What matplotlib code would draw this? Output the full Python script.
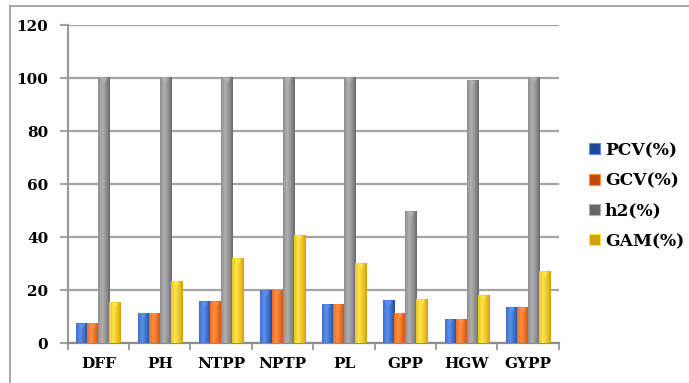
import numpy as np
import matplotlib
matplotlib.use("Agg")
import matplotlib.pyplot as plt
from matplotlib.colors import to_rgb
from matplotlib.patches import Patch
from matplotlib.lines import Line2D

# data
traits = ["DFF", "PH", "NTPP", "NPTP", "PL", "GPP", "HGW", "GYPP"]
pcv = [7.5, 11.3, 15.7, 19.7, 14.5, 16.1, 8.8, 13.2]
gcv = [7.5, 11.3, 15.5, 19.7, 14.5, 11.3, 8.8, 13.2]
h2 = [100, 100, 100, 100, 100, 49.4, 98.9, 100]
gam = [15.1, 23.3, 32.0, 40.5, 29.8, 16.3, 18.0, 26.9]
series_names = ["PCV(%)", "GCV(%)", "h2(%)", "GAM(%)"]

# (dark edge, light highlight) for the fake 3D shading
shades = [("#1c4796", "#5a8ff0"),
          ("#c24a06", "#ff8d3f"),
          ("#666666", "#b0b0b0"),
          ("#d29e00", "#ffe545")]

FONT = "DejaVu Serif"


def shade_strip(dark, light, n=64):
    # dark -> light (at ~35%) -> dark across the bar
    d = np.array(to_rgb(dark))
    l = np.array(to_rgb(light))
    t = np.linspace(0, 1, n)
    w = np.clip(1 - np.abs(t - 0.35) / 0.65, 0, 1) ** 0.8
    return (d[None, :] * (1 - w[:, None]) + l[None, :] * w[:, None])[None, :, :]


fig = plt.figure(figsize=(6.89, 3.83), dpi=100)
ax = fig.add_axes([0.0983, 0.1037, 0.7127, 0.831])

x = np.arange(len(traits))
bw = 0.18
offsets = [-1.5 * bw, -0.5 * bw, 0.5 * bw, 1.5 * bw]

for vals, off, (dark, light) in zip([pcv, gcv, h2, gam], offsets, shades):
    bars = ax.bar(x + off, vals, width=bw, color=dark, linewidth=0, zorder=3)
    img = shade_strip(dark, light)
    for b in bars:
        x0, w, h = b.get_x(), b.get_width(), b.get_height()
        ax.imshow(img, extent=(x0, x0 + w, 0, h), aspect="auto",
                  interpolation="bilinear", zorder=3.1)
        # little bevel on the top of each column
        ax.plot(x0 + w / 2, h - 1.2, marker="v", markersize=5,
                color=light, markeredgewidth=0, zorder=3.2)

ax.set_xlim(-0.5, len(traits) - 0.5)
ax.set_ylim(0, 120)
ax.set_yticks(np.arange(0, 121, 20))
ax.yaxis.grid(True, color="#a3a3a3", linewidth=1.6, zorder=0)
ax.set_axisbelow(True)

ax.set_xticks(x)
ax.set_xticklabels(traits)
ax.set_xticks(np.arange(-0.5, len(traits)), minor=True)
ax.tick_params(axis="x", which="major", length=0, pad=10)
ax.tick_params(axis="x", which="minor", length=5, width=1.2, color="#8c8c8c")
ax.tick_params(axis="y", length=6, width=1.5, color="#a3a3a3", pad=8)

for lab in ax.get_xticklabels() + ax.get_yticklabels():
    lab.set_fontfamily(FONT)
    lab.set_fontweight("bold")
    lab.set_fontsize(11)

for side in ["top", "right"]:
    ax.spines[side].set_visible(False)
ax.spines["left"].set_color("#9a9a9a")
ax.spines["left"].set_linewidth(1.6)
ax.spines["bottom"].set_color("#8c8c8c")
ax.spines["bottom"].set_linewidth(1.6)

handles = [Patch(facecolor=d, edgecolor=l, linewidth=0.8) for d, l in shades]
leg = ax.legend(handles, series_names, loc="center left",
                bbox_to_anchor=(1.045, 0.463), frameon=False,
                prop={"family": FONT, "weight": "bold", "size": 12.3},
                handlelength=0.6, handleheight=0.6, handletextpad=0.3,
                labelspacing=0.78, borderpad=0)

# chart area border (only top and left show in the crop)
fig.add_artist(Line2D([10 / 689, 1], [1 - 6 / 383, 1 - 6 / 383],
                      color="#9a9a9a", linewidth=1.2))
fig.add_artist(Line2D([10 / 689, 10 / 689], [0, 1 - 6 / 383],
                      color="#9a9a9a", linewidth=1.2))

fig.savefig("out.png", dpi=100)
